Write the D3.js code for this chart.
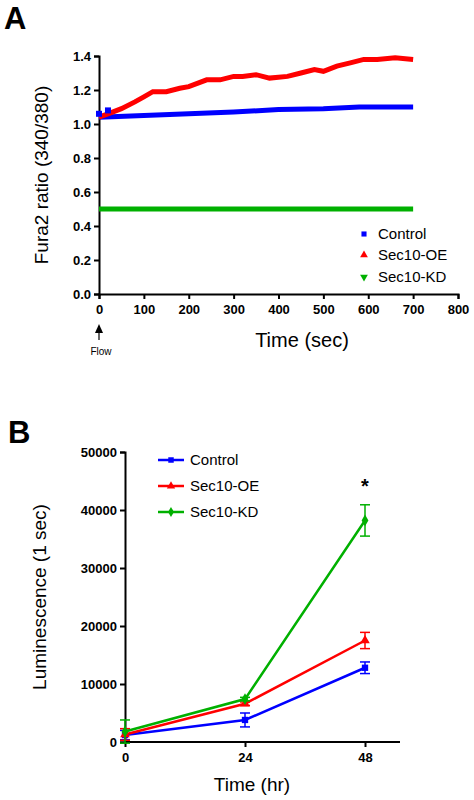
<!DOCTYPE html><html><head><meta charset="utf-8">
<script src="https://cdn.jsdelivr.net/npm/d3@7"></script>
<style>body{margin:0;background:#fff}text{font-family:Arial,"Liberation Sans",sans-serif}</style></head><body>
<svg id="c" width="474" height="800"></svg>
<script>
const seriesNames=["Control","Sec10-OE","Sec10-KD"];
const colors=["#0000ff","#ff0000","#00b000"];
const aControl=[[0,1.04],[100,1.05],[200,1.06],[300,1.07],[400,1.085],[500,1.09],[580,1.10],[700,1.10]];
const aOE=[[0,1.04],[20,1.06],[50,1.09],[80,1.13],[100,1.16],[120,1.19],[150,1.19],[180,1.21],[200,1.22],[240,1.26],[270,1.26],[300,1.28],[320,1.28],[350,1.29],[380,1.27],[420,1.28],[450,1.30],[480,1.32],[500,1.31],[530,1.34],[560,1.36],[590,1.38],[620,1.38],[660,1.39],[700,1.38]];
const aKD=[[0,0.50],[700,0.50]];
const aXTicks=[0,100,200,300,400,500,600,700,800];
const aYTicks=[0,0.2,0.4,0.6,0.8,1.0,1.2,1.4];
const bTimes=[0,24,48];
const bControl=[1200,3800,12800], bControlErr=[800,1200,1000];
const bOE=[1300,6600,17500], bOEErr=[1000,300,1400];
const bKD=[1800,7400,38200], bKDErr=[2000,300,2700];
const bYTicks=[0,10000,20000,30000,40000,50000];

const svg=d3.select("#c");
const black="#000";
svg.append("text").attr("x",4).attr("y",29).attr("font-size",31).attr("font-weight","bold").text("A");
const xA=d3.scaleLinear().domain([0,800]).range([99,458]);
const yA=d3.scaleLinear().domain([0,1.4]).range([294,56]);
const gA=svg.append("g");
gA.append("g").attr("transform","translate(0,294)").call(d3.axisBottom(xA).tickValues(aXTicks).tickSize(5).tickFormat(d3.format("d")))
 .call(g=>{g.select(".domain").attr("stroke-width",2);g.selectAll("text").attr("font-size",13).attr("font-weight","bold").attr("dy","0.9em");g.selectAll("line").attr("stroke-width",2);});
gA.append("g").attr("transform","translate(99,0)").call(d3.axisLeft(yA).tickValues(aYTicks).tickSize(5).tickFormat(d3.format(".1f")))
 .call(g=>{g.select(".domain").attr("stroke-width",2);g.selectAll("text").attr("font-size",13).attr("font-weight","bold");g.selectAll("line").attr("stroke-width",2);});
const lnA=d3.line().x(d=>xA(d[0])).y(d=>yA(d[1]));
[aKD,aControl,aOE].forEach((s,i)=>{
  const c=[colors[2],colors[0],colors[1]][i];
  gA.append("path").attr("d",lnA(s)).attr("fill","none").attr("stroke",c).attr("stroke-width",5);
});
gA.append("rect").attr("x",xA(0)-3).attr("y",yA(1.06)-3).attr("width",6).attr("height",6).attr("fill",colors[0]);
gA.append("rect").attr("x",xA(20)-3).attr("y",yA(1.08)-3).attr("width",6).attr("height",6).attr("fill",colors[0]);
svg.append("text").attr("x",48).attr("y",175).attr("transform","rotate(-90,48,175)").attr("text-anchor","middle").attr("font-size",19).text("Fura2 ratio (340/380)");
svg.append("text").attr("x",302).attr("y",347).attr("text-anchor","middle").attr("font-size",20).text("Time (sec)");
svg.append("line").attr("x1",99).attr("x2",99).attr("y1",340).attr("y2",326).attr("stroke",black).attr("stroke-width",1.2);
svg.append("path").attr("d","M95,333L99,324L103,333Z").attr("fill",black);
svg.append("text").attr("x",101).attr("y",355).attr("text-anchor","middle").attr("font-size",10).text("Flow");
const legA=[234,255,277];
seriesNames.forEach((n,i)=>{
  const y=legA[i];
  const sym=i===0?d3.symbolSquare:d3.symbolTriangle;
  svg.append("path").attr("d",d3.symbol(sym,26)()).attr("transform",`translate(364,${y})`+(i===2?" rotate(180)":"")).attr("fill",colors[i]);
  svg.append("text").attr("x",378).attr("y",y+5).attr("font-size",15).text(n);
});

svg.append("text").attr("x",8).attr("y",443).attr("font-size",31).attr("font-weight","bold").text("B");
const xB=d3.scaleLinear().domain([0,48]).range([125,365]);
const yB=d3.scaleLinear().domain([0,50000]).range([742,452]);
svg.append("g").attr("transform","translate(0,742)").call(d3.axisBottom(xB).tickValues(bTimes).tickSize(5))
 .call(g=>{g.select(".domain").attr("d","M125,0H400").attr("stroke-width",2);g.selectAll("text").attr("font-size",13).attr("font-weight","bold").attr("dy","0.9em");g.selectAll("line").attr("stroke-width",2);});
svg.append("g").attr("transform","translate(125,0)").call(d3.axisLeft(yB).tickValues(bYTicks).tickSize(5).tickFormat(d3.format("d")))
 .call(g=>{g.select(".domain").attr("stroke-width",2);g.selectAll("text").attr("font-size",13).attr("font-weight","bold");g.selectAll("line").attr("stroke-width",2);});
const bs=[[bControl,bControlErr,d3.symbolSquare,0],[bOE,bOEErr,d3.symbolTriangle,1],[bKD,bKDErr,d3.symbolDiamond,2]];
const lnB=d3.line().x((d,i)=>xB(bTimes[i])).y(d=>yB(d));
bs.forEach(([v,e,sym,ci])=>{
  const g=svg.append("g");
  v.forEach((d,i)=>{
    const x=xB(bTimes[i]);
    g.append("line").attr("x1",x).attr("x2",x).attr("y1",yB(d-e[i])).attr("y2",yB(d+e[i])).attr("stroke",colors[ci]).attr("stroke-width",1.5);
    [d-e[i],d+e[i]].forEach(t=>g.append("line").attr("x1",x-5).attr("x2",x+5).attr("y1",yB(t)).attr("y2",yB(t)).attr("stroke",colors[ci]).attr("stroke-width",1.5));
    g.append("path").attr("d",d3.symbol(sym,40)()).attr("transform",`translate(${x},${yB(d)})`).attr("fill",colors[ci]);
  });
  g.append("path").attr("d",lnB(v)).attr("fill","none").attr("stroke",colors[ci]).attr("stroke-width",2.5);
});
svg.append("text").attr("x",xB(48)).attr("y",493).attr("text-anchor","middle").attr("font-size",20).attr("font-weight","bold").text("*");
svg.append("text").attr("x",46).attr("y",597).attr("transform","rotate(-90,46,597)").attr("text-anchor","middle").attr("font-size",19).text("Luminescence (1 sec)");
svg.append("text").attr("x",252).attr("y",791).attr("text-anchor","middle").attr("font-size",19).text("Time (hr)");
const legBy=[460,486,512];
bs.forEach(([v,e,sym,ci],i)=>{
  const y=legBy[i];
  svg.append("line").attr("x1",158).attr("x2",184).attr("y1",y).attr("y2",y).attr("stroke",colors[ci]).attr("stroke-width",2.5);
  svg.append("path").attr("d",d3.symbol(sym,30)()).attr("transform",`translate(171,${y})`).attr("fill",colors[ci]);
  svg.append("text").attr("x",190).attr("y",y+5).attr("font-size",15).text(seriesNames[i]);
});
</script></body></html>
